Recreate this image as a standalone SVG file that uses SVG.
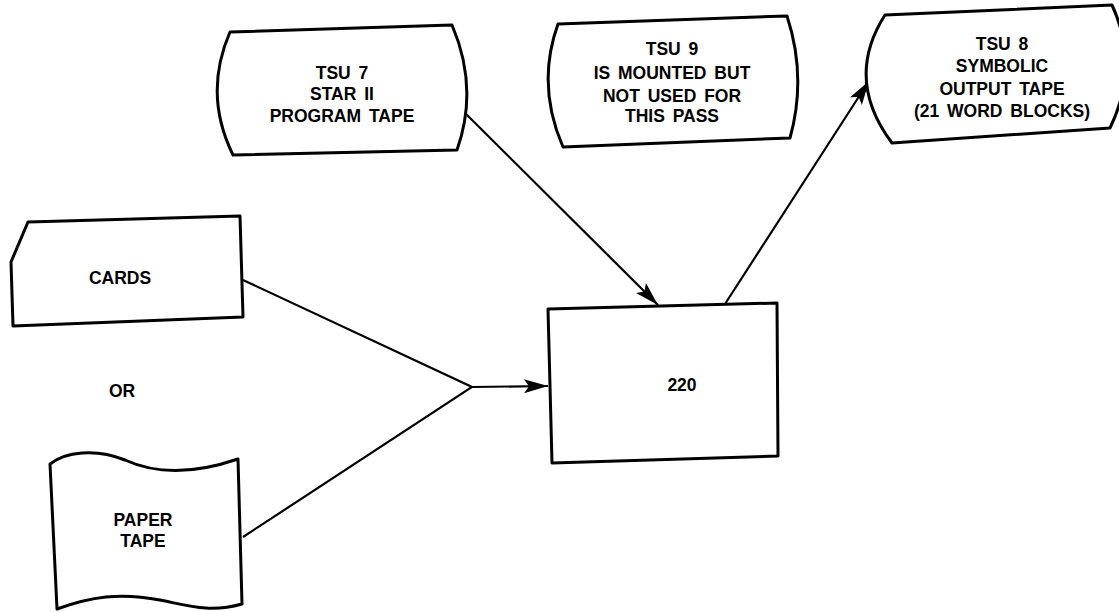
<svg xmlns="http://www.w3.org/2000/svg" width="1119" height="612" viewBox="0 0 1119 612">
<style>
.shape{fill:#fff;stroke:#000;stroke-width:3;stroke-linejoin:round}
.conn{fill:none;stroke:#000;stroke-width:2.2}
text{font-family:"Liberation Sans",Arial,sans-serif;font-weight:bold;font-size:17.5px;text-anchor:middle;fill:#000;word-spacing:3px}
</style>
<defs>
<marker id="ah" markerUnits="userSpaceOnUse" markerWidth="26" markerHeight="16" refX="24" refY="7" orient="auto" overflow="visible">
<path d="M0,0 L24,7 L0,14 L5,7 Z" fill="#000"/>
</marker>
</defs>
<rect width="1119" height="612" fill="#fff"/>
<g id="connectors">
<path class="conn" d="M465,113 L658,305" marker-end="url(#ah)"/>
<path class="conn" d="M725,304 L869,81" marker-end="url(#ah)"/>
<path class="conn" d="M243,280 L472,387 L243,537"/>
<path class="conn" d="M472,387 L548,386" marker-end="url(#ah)"/>
</g>
<g id="tsu7">
<path class="shape" d="M230,32 L452,25 Q479,88 457,150 L233,155 Q203,94 230,32 Z"/>
<text x="342" y="79">TSU 7</text>
<text x="342" y="100">STAR II</text>
<text x="342" y="122">PROGRAM TAPE</text>
</g>
<g id="tsu9">
<path class="shape" d="M558,24 L787,16 Q807,77 790,138 L563,147 Q536,85 558,24 Z"/>
<text x="672" y="55">TSU 9</text>
<text x="672" y="79">IS MOUNTED BUT</text>
<text x="672" y="102">NOT USED FOR</text>
<text x="672" y="122">THIS PASS</text>
</g>
<g id="tsu8">
<path class="shape" d="M885,15 L1112,5 Q1140,66 1110,128 L892,143 Q844,79 885,15 Z"/>
<text x="1002" y="50">TSU 8</text>
<text x="1002" y="72">SYMBOLIC</text>
<text x="1002" y="95">OUTPUT TAPE</text>
<text x="1002" y="117">(21 WORD BLOCKS)</text>
</g>
<g id="cards">
<path class="shape" d="M28,222 L240,216 L243,317 L13,326 L11,262 Z"/>
<text x="120" y="284">CARDS</text>
</g>
<g id="or">
<text x="122" y="397">OR</text>
</g>
<g id="papertape">
<path class="shape" d="M50,464 C65,452 95,448 125,460 C160,476 200,472 238,459 L242,604 C210,613 190,606 160,600 C120,592 90,597 57,609 Z"/>
<text x="143" y="526">PAPER</text>
<text x="143" y="547">TAPE</text>
</g>
<g id="box220">
<path class="shape" d="M548,309 L777,303 L778,456 L552,463 Z"/>
<text x="682" y="391">220</text>
</g>
</svg>
